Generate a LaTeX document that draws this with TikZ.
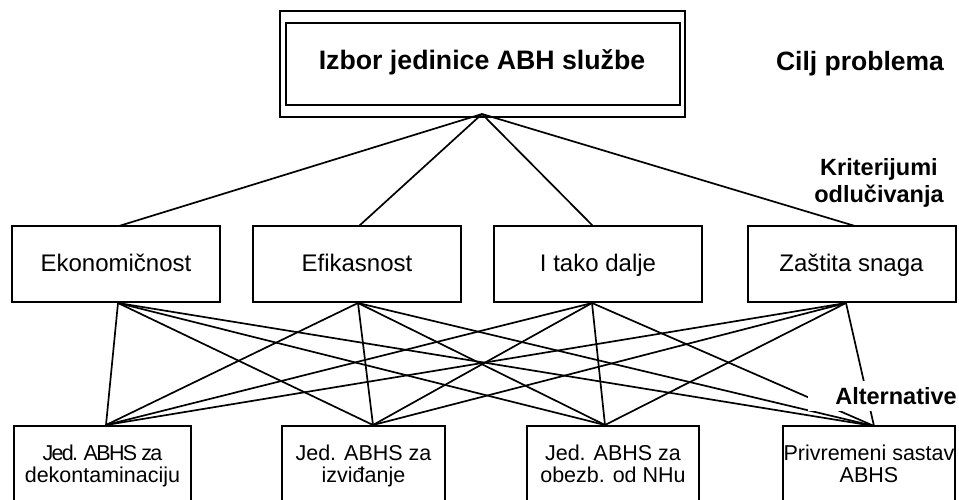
\documentclass[tikz,border=0pt]{standalone}
\usepackage{fontspec}
\setmainfont{Liberation Sans}
\newfontfamily\tightfont[LetterSpace=-8]{Liberation Sans}
\begin{document}
\begin{tikzpicture}[x=1pt,y=-1pt,
  box/.style={draw, line width=2pt, inner sep=0pt},
  crit/.style={box, minimum width=208, minimum height=76, text height=19, text depth=4, font=\fontsize{24}{28}\selectfont},
  altbox/.style={box, minimum height=76},
  alttext/.style={anchor=base, align=center, inner sep=0pt, font=\fontsize{21.5}{22}\selectfont},
  conn/.style={line width=1.7pt},
  lab/.style={font=\bfseries\fontsize{23.5}{27}\selectfont, align=center}]
\useasboundingbox (0,0) rectangle (959,499);
\clip (0,0) rectangle (959,499);

% goal
\node[box, line width=1.8pt, minimum width=405, minimum height=106] (goalouter) at (482.5,64) {};
\node[box, minimum width=394, minimum height=82] (goal) at (483,64) {};
\node[anchor=base, font=\bfseries\fontsize{26.7}{30}\selectfont] (goaltext) at (482,69) {Izbor jedinice ABH službe};
\coordinate (apex) at (482,114);

% criteria
\node[crit] (c1) at (116,264) {Ekonomičnost};
\node[crit] (c2) at (357,264) {Efikasnost};
\node[crit] (c3) at (598,264) {I tako dalje};
\node[crit] (c4) at (851.5,264) {Zaštita snaga};

% alternatives
\node[altbox, minimum width=177] (a1) at (102.5,464) {};
\node[altbox, minimum width=163] (a2) at (363.5,464) {};
\node[altbox, minimum width=172] (a3) at (613,464) {};
\node[altbox, minimum width=172] (a4) at (869,464) {};
\node[alttext] (a1x) at (102.5,482) {{\tightfont Jed. ABHS za}\\dekontaminaciju};
\node[alttext] (a2x) at (363.5,482) {Jed. ABHS za\\izviđanje};
\node[alttext] (a3x) at (613,482) {Jed. ABHS za\\obezb. od NHu};
\node[alttext] (a4x) at (869,482) {Privremeni sastav\\ABHS};

% connector points
\coordinate (c1t) at (119,226);
\coordinate (c2t) at (359,226);
\coordinate (c3t) at (593,226);
\coordinate (c4t) at (855,226);
\coordinate (c1b) at (118,303);
\coordinate (c2b) at (358,303);
\coordinate (c3b) at (592,303);
\coordinate (c4b) at (846,303);
\coordinate (a1t) at (106,425);
\coordinate (a2t) at (373,425);
\coordinate (a3t) at (605,425);
\coordinate (a4t) at (874,426);

\foreach \c in {c1t,c2t,c3t,c4t} \draw[conn] (apex) -- (\c);
\foreach \c in {c1b,c2b,c3b,c4b}
  \foreach \a in {a1t,a2t,a3t,a4t}
    \draw[conn] (\c) -- (\a);

% level labels
\node[lab, font=\bfseries\fontsize{26.5}{30}\selectfont] (lgoal) at (860,64) {Cilj problema};
\node[lab] (lcrit) at (879,183) {Kriterijumi\\odlučivanja};
\node[lab, fill=white, text width=147, align=right, inner xsep=2, inner ysep=0, minimum height=30, anchor=east] (lalt) at (959,396) {Alternative};
\end{tikzpicture}
\end{document}
